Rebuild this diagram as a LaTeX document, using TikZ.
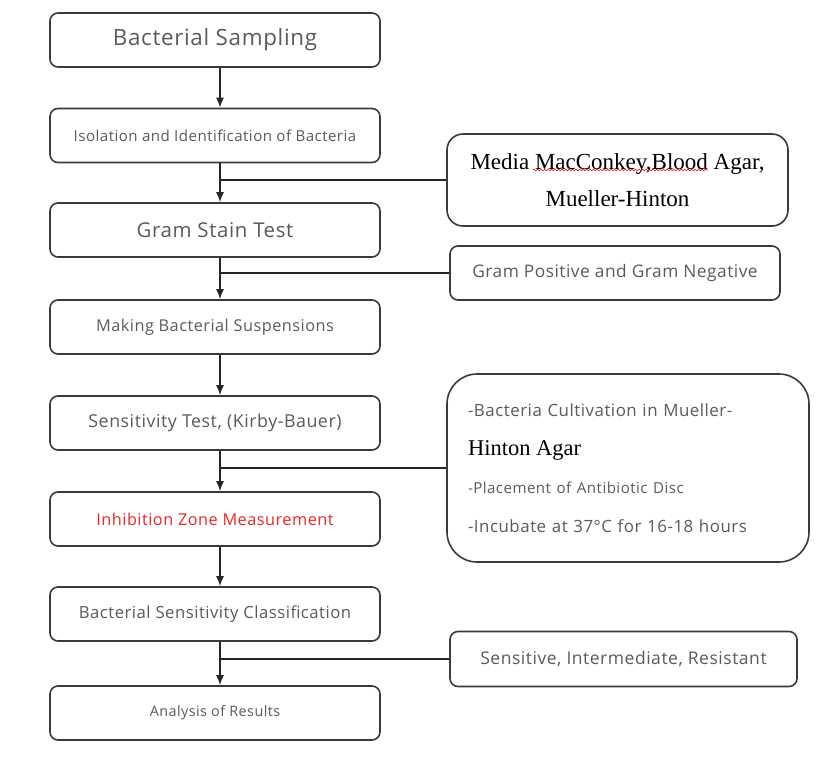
\documentclass[tikz,border=0pt]{standalone}
\usepackage{fontspec}
\setmainfont{Liberation Serif}
\newfontfamily\flowsans[LetterSpace=3]{Open Sans}
\usetikzlibrary{arrows.meta,positioning,decorations.pathmorphing}
\definecolor{BoxLine}{RGB}{58,58,58}
\definecolor{StepText}{RGB}{90,90,90}
\definecolor{AlertText}{RGB}{236,38,38}
\tikzset{
  stepbox/.style={draw=BoxLine, line width=1.6pt, rounded corners=8pt, minimum width=330pt, minimum height=54pt, inner sep=0pt, text=StepText, font=\flowsans},
  sidebox/.style={draw=BoxLine, line width=1.6pt, inner sep=0pt},
  flowline/.style={draw=black!85, line width=1.5pt},
}

\begin{document}
\begin{tikzpicture}[x=1pt, y=-1pt, >={Latex[length=10pt,width=8pt]}]
    \useasboundingbox (0,0) rectangle (830,756);
    % main steps
    \foreach \n/\y/\txt in {
      sampling/40/{\fontsize{22.4}{26}\selectfont Bacterial Sampling},
      isolation/135.5/{\fontsize{15.1}{18}\selectfont Isolation and Identification of Bacteria},
      gramstain/230/{\fontsize{20.4}{24}\selectfont Gram Stain Test},
      suspension/327/{\fontsize{16.3}{19}\selectfont Making Bacterial Suspensions},
      sensitivity/423/{\fontsize{17.8}{21}\selectfont Sensitivity Test, (Kirby-Bauer)},
      inhibition/519/{\color{AlertText}\fontsize{16.3}{19}\selectfont Inhibition Zone Measurement},
      classify/614/{\fontsize{16.7}{20}\selectfont Bacterial Sensitivity Classification},
      analysis/713/{\fontsize{14.4}{17}\selectfont Analysis of Results}
    }{
      \node[stepbox] (\n) at (215,\y) {\txt};
    }
    \coordinate (spine) at (220,0);
    \foreach \a/\b in {sampling/isolation,isolation/gramstain,gramstain/suspension,suspension/sensitivity,sensitivity/inhibition,inhibition/classify,classify/analysis} {
      \draw[->, flowline] (\a.south -| spine) -- (\b.north -| spine);
    }
    % side notes
    \node[sidebox, rounded corners=16pt, minimum width=341pt, minimum height=92pt, align=center, font=\fontsize{23}{37.5}\selectfont] (media) at (617.5,180) {Media MacConkey,Blood Agar,\\Mueller-Hinton};
    \node[sidebox, rounded corners=8pt, minimum width=330pt, minimum height=54pt, text=StepText, font=\flowsans\fontsize{17.3}{20}\selectfont] (gramtype) at (615,273) {Gram Positive and Gram Negative};
    \node[sidebox, rounded corners=30pt, minimum width=362pt, minimum height=188pt, text width=320pt, inner xsep=21pt, align=left, text=StepText, font=\flowsans\fontsize{16.9}{38.5}\selectfont] (culture) at (628,468) {-Bacteria Cultivation in Mueller-\\{\rmfamily\color{black}\fontsize{22.5}{38.5}\selectfont Hinton Agar}\\{\fontsize{15.1}{38.5}\selectfont -Placement of Antibiotic Disc}\\-Incubate at 37°C for 16-18 hours};
    \node[sidebox, rounded corners=8pt, minimum width=347pt, minimum height=55pt, text=StepText, font=\flowsans\fontsize{17.5}{20}\selectfont] (category) at (623.5,659) {Sensitive, Intermediate, Resistant};
    \draw[red, line width=0.6pt, decorate, decoration={snake, amplitude=0.8pt, segment length=3.5pt}] (533,170) -- (708,170);
    \foreach \s in {media,gramtype,culture,category} {
      \draw[flowline] (\s.west) -- (\s.west -| spine);
    }
\end{tikzpicture}
\end{document}
